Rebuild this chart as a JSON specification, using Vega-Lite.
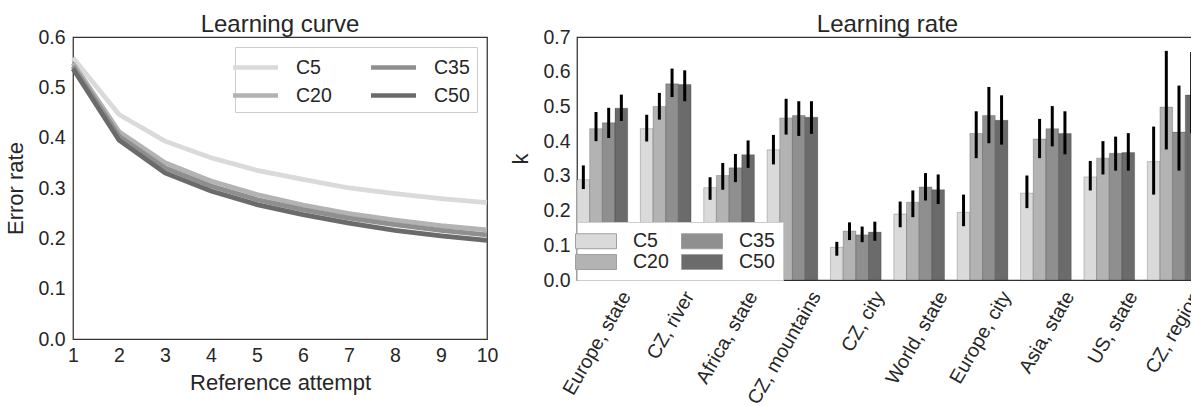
{
  "$schema": "https://vega.github.io/schema/vega-lite/v6.json",
  "background": "white",
  "padding": {"left": 4, "top": 12, "right": -14, "bottom": 0},
  "spacing": 10,
  "config": {
    "font": "Liberation Sans",
    "view": {"stroke": "#333333", "strokeWidth": 1.25},
    "axis": {"grid": false, "ticks": false, "domain": false, "labelFont": "Liberation Sans", "labelFontSize": 19.5, "labelColor": "#262626", "titleFont": "Liberation Sans", "titleFontSize": 22, "titleFontWeight": "normal", "titleColor": "#262626", "labelOverlap": false},
    "title": {"font": "Liberation Sans", "fontSize": 24, "fontWeight": "normal", "color": "#262626", "offset": -10, "baseline": "alphabetic", "frame": "group"},
    "legend": {"labelFont": "Liberation Sans", "labelFontSize": 19.5, "labelColor": "#262626"}
  },
  "resolve": {"scale": {"color": "independent"}, "legend": {"color": "independent"}},
  "hconcat": [
    {
      "title": "Learning curve",
      "width": 414,
      "height": 302,
      "data": {"values": [
        {"series": "C5", "attempt": 1, "error": 0.559}, {"series": "C5", "attempt": 2, "error": 0.446}, {"series": "C5", "attempt": 3, "error": 0.393}, {"series": "C5", "attempt": 4, "error": 0.360}, {"series": "C5", "attempt": 5, "error": 0.335}, {"series": "C5", "attempt": 6, "error": 0.317}, {"series": "C5", "attempt": 7, "error": 0.300}, {"series": "C5", "attempt": 8, "error": 0.289}, {"series": "C5", "attempt": 9, "error": 0.279}, {"series": "C5", "attempt": 10, "error": 0.271},
        {"series": "C20", "attempt": 1, "error": 0.548}, {"series": "C20", "attempt": 2, "error": 0.412}, {"series": "C20", "attempt": 3, "error": 0.350}, {"series": "C20", "attempt": 4, "error": 0.314}, {"series": "C20", "attempt": 5, "error": 0.287}, {"series": "C20", "attempt": 6, "error": 0.266}, {"series": "C20", "attempt": 7, "error": 0.249}, {"series": "C20", "attempt": 8, "error": 0.236}, {"series": "C20", "attempt": 9, "error": 0.225}, {"series": "C20", "attempt": 10, "error": 0.217},
        {"series": "C35", "attempt": 1, "error": 0.542}, {"series": "C35", "attempt": 2, "error": 0.403}, {"series": "C35", "attempt": 3, "error": 0.340}, {"series": "C35", "attempt": 4, "error": 0.304}, {"series": "C35", "attempt": 5, "error": 0.277}, {"series": "C35", "attempt": 6, "error": 0.257}, {"series": "C35", "attempt": 7, "error": 0.240}, {"series": "C35", "attempt": 8, "error": 0.227}, {"series": "C35", "attempt": 9, "error": 0.216}, {"series": "C35", "attempt": 10, "error": 0.207},
        {"series": "C50", "attempt": 1, "error": 0.537}, {"series": "C50", "attempt": 2, "error": 0.395}, {"series": "C50", "attempt": 3, "error": 0.330}, {"series": "C50", "attempt": 4, "error": 0.294}, {"series": "C50", "attempt": 5, "error": 0.267}, {"series": "C50", "attempt": 6, "error": 0.247}, {"series": "C50", "attempt": 7, "error": 0.230}, {"series": "C50", "attempt": 8, "error": 0.216}, {"series": "C50", "attempt": 9, "error": 0.205}, {"series": "C50", "attempt": 10, "error": 0.196}
      ]},
      "mark": {"type": "line", "strokeWidth": 4.8},
      "encoding": {
        "x": {"field": "attempt", "type": "quantitative", "scale": {"domain": [1, 10], "nice": false, "zero": false},
              "axis": {"title": "Reference attempt", "values": [1, 2, 3, 4, 5, 6, 7, 8, 9, 10], "labelFlush": false, "labelPadding": 7, "titlePadding": 8}},
        "y": {"field": "error", "type": "quantitative", "scale": {"domain": [0, 0.6], "nice": false},
              "axis": {"title": "Error rate", "values": [0, 0.1, 0.2, 0.3, 0.4, 0.5, 0.6], "format": ".1f", "labelPadding": 8, "titlePadding": 10}},
        "color": {"field": "series", "type": "nominal",
                  "scale": {"domain": ["C5", "C20", "C35", "C50"], "range": ["#dadada", "#b3b3b3", "#8f8f8f", "#6b6b6b"]},
                  "legend": {"title": null, "orient": "top-right", "offset": 10, "columns": 2, "symbolType": "M-2,0L2,0", "symbolSize": 506, "symbolStrokeWidth": 4.5, "labelOffset": 27, "columnPadding": 30, "rowPadding": 5, "padding": 7, "fillColor": "white", "strokeColor": "#cccccc"}}
      }
    },
    {
      "title": "Learning rate",
      "width": 621,
      "height": 243,
      "data": {"values": [
        {"task": "Europe, state", "series": "C5", "k": 0.289, "lo": 0.262, "hi": 0.330},
        {"task": "Europe, state", "series": "C20", "k": 0.436, "lo": 0.400, "hi": 0.484},
        {"task": "Europe, state", "series": "C35", "k": 0.453, "lo": 0.409, "hi": 0.496},
        {"task": "Europe, state", "series": "C50", "k": 0.495, "lo": 0.458, "hi": 0.534},
        {"task": "CZ, river", "series": "C5", "k": 0.436, "lo": 0.399, "hi": 0.476},
        {"task": "CZ, river", "series": "C20", "k": 0.500, "lo": 0.462, "hi": 0.539},
        {"task": "CZ, river", "series": "C35", "k": 0.565, "lo": 0.527, "hi": 0.609},
        {"task": "CZ, river", "series": "C50", "k": 0.563, "lo": 0.515, "hi": 0.604},
        {"task": "Africa, state", "series": "C5", "k": 0.266, "lo": 0.231, "hi": 0.296},
        {"task": "Africa, state", "series": "C20", "k": 0.301, "lo": 0.260, "hi": 0.337},
        {"task": "Africa, state", "series": "C35", "k": 0.323, "lo": 0.282, "hi": 0.363},
        {"task": "Africa, state", "series": "C50", "k": 0.361, "lo": 0.323, "hi": 0.402},
        {"task": "CZ, mountains", "series": "C5", "k": 0.375, "lo": 0.333, "hi": 0.418},
        {"task": "CZ, mountains", "series": "C20", "k": 0.467, "lo": 0.419, "hi": 0.522},
        {"task": "CZ, mountains", "series": "C35", "k": 0.474, "lo": 0.415, "hi": 0.515},
        {"task": "CZ, mountains", "series": "C50", "k": 0.469, "lo": 0.421, "hi": 0.515},
        {"task": "CZ, city", "series": "C5", "k": 0.094, "lo": 0.070, "hi": 0.110},
        {"task": "CZ, city", "series": "C20", "k": 0.141, "lo": 0.115, "hi": 0.166},
        {"task": "CZ, city", "series": "C35", "k": 0.130, "lo": 0.109, "hi": 0.154},
        {"task": "CZ, city", "series": "C50", "k": 0.138, "lo": 0.113, "hi": 0.168},
        {"task": "World, state", "series": "C5", "k": 0.190, "lo": 0.152, "hi": 0.226},
        {"task": "World, state", "series": "C20", "k": 0.224, "lo": 0.181, "hi": 0.258},
        {"task": "World, state", "series": "C35", "k": 0.268, "lo": 0.229, "hi": 0.308},
        {"task": "World, state", "series": "C50", "k": 0.260, "lo": 0.219, "hi": 0.304},
        {"task": "Europe, city", "series": "C5", "k": 0.195, "lo": 0.155, "hi": 0.246},
        {"task": "Europe, city", "series": "C20", "k": 0.422, "lo": 0.351, "hi": 0.486},
        {"task": "Europe, city", "series": "C35", "k": 0.474, "lo": 0.394, "hi": 0.556},
        {"task": "Europe, city", "series": "C50", "k": 0.460, "lo": 0.390, "hi": 0.532},
        {"task": "Asia, state", "series": "C5", "k": 0.250, "lo": 0.207, "hi": 0.301},
        {"task": "Asia, state", "series": "C20", "k": 0.406, "lo": 0.351, "hi": 0.464},
        {"task": "Asia, state", "series": "C35", "k": 0.436, "lo": 0.385, "hi": 0.501},
        {"task": "Asia, state", "series": "C50", "k": 0.422, "lo": 0.362, "hi": 0.486},
        {"task": "US, state", "series": "C5", "k": 0.297, "lo": 0.258, "hi": 0.343},
        {"task": "US, state", "series": "C20", "k": 0.351, "lo": 0.304, "hi": 0.400},
        {"task": "US, state", "series": "C35", "k": 0.365, "lo": 0.315, "hi": 0.413},
        {"task": "US, state", "series": "C50", "k": 0.367, "lo": 0.315, "hi": 0.423},
        {"task": "CZ, region", "series": "C5", "k": 0.341, "lo": 0.246, "hi": 0.442},
        {"task": "CZ, region", "series": "C20", "k": 0.498, "lo": 0.376, "hi": 0.660},
        {"task": "CZ, region", "series": "C35", "k": 0.426, "lo": 0.315, "hi": 0.560},
        {"task": "CZ, region", "series": "C50", "k": 0.533, "lo": 0.423, "hi": 0.657}
      ]},
      "encoding": {
        "x": {"field": "task", "type": "nominal", "sort": null,
              "scale": {"paddingInner": 0.2, "paddingOuter": 0},
              "axis": {"title": null, "labelAngle": -60, "labelAlign": "right", "labelBaseline": "top", "labelOffset": 16, "labelPadding": 8}},
        "xOffset": {"field": "series", "type": "nominal", "scale": {"domain": ["C5", "C20", "C35", "C50"], "paddingInner": 0, "paddingOuter": 0}}
      },
      "layer": [
        {
          "mark": {"type": "bar", "stroke": "black", "strokeOpacity": 0.2, "strokeWidth": 1},
          "encoding": {
            "y": {"field": "k", "type": "quantitative", "scale": {"domain": [0, 0.7], "nice": false},
                  "axis": {"title": "k", "values": [0, 0.1, 0.2, 0.3, 0.4, 0.5, 0.6, 0.7], "format": ".1f", "labelOverlap": false, "labelPadding": 7, "titlePadding": 10}},
            "color": {"field": "series", "type": "nominal",
                      "scale": {"domain": ["C5", "C20", "C35", "C50"], "range": ["#dadada", "#b3b3b3", "#8f8f8f", "#6b6b6b"]},
                      "legend": {"title": null, "orient": "bottom-left", "offset": 0, "columns": 2, "symbolType": "M-2,-0.73L2,-0.73L2,0.73L-2,0.73Z", "symbolSize": 420, "symbolStrokeWidth": 1, "symbolStrokeColor": "#a0a0a0", "labelOffset": 26, "columnPadding": 10, "rowPadding": 0, "padding": 8, "fillColor": "white", "strokeColor": "#cccccc"}}
          }
        },
        {
          "mark": {"type": "rule", "strokeWidth": 3, "color": "black"},
          "encoding": {
            "y": {"field": "lo", "type": "quantitative",
                  "axis": {"title": "k", "values": [0, 0.1, 0.2, 0.3, 0.4, 0.5, 0.6, 0.7], "format": ".1f", "labelOverlap": false, "labelPadding": 7, "titlePadding": 10}},
            "y2": {"field": "hi"}
          }
        }
      ]
    }
  ]
}
